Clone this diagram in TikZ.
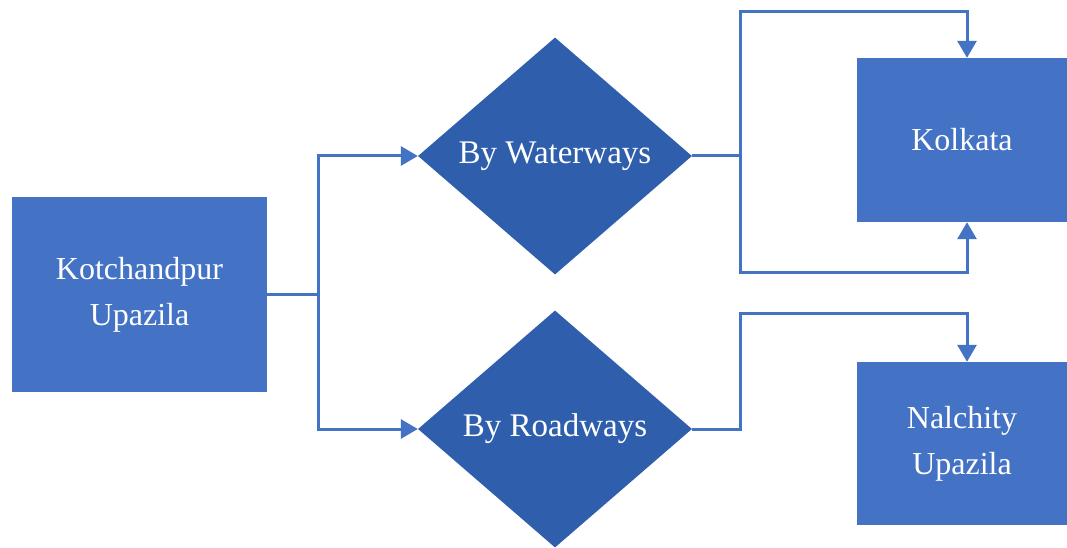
\documentclass[tikz,border=0pt]{standalone}
\usepackage{fontspec}
\setmainfont{Liberation Serif}
\usetikzlibrary{shapes.geometric, positioning, arrows.meta}
\definecolor{boxblue}{RGB}{68,114,196}
\definecolor{diamondblue}{RGB}{47,95,172}
\tikzset{
    x=1pt, y=-1pt, % pixel units, y pointing down
    place/.style={rectangle, fill=boxblue, text=white, inner sep=0pt, align=center,
        font=\fontsize{32}{46}\selectfont}, % the blue boxes
    route/.style={diamond, fill=diamondblue, text=white, inner sep=0pt,
        minimum width=274pt, minimum height=237pt, font=\fontsize{33}{46}\selectfont}, % the ways
    link/.style={draw=boxblue, line width=3pt, line join=miter}, % plain connector
    arrowlink/.style={link, -{Triangle[width=19pt,length=17pt]}}, % connector with head
}
\begin{document}
\begin{tikzpicture}
    \useasboundingbox[fill=white] (0,0) rectangle (1067,548);
    \node[place, minimum width=255pt, minimum height=195pt] (kotchandpur) at (139.5,294.5) {Kotchandpur\\Upazila};
    \node[route] (waterways) at (555,156) {By Waterways};
    \node[route] (roadways) at (555,429) {By Roadways};
    \node[place, minimum width=210pt, minimum height=164pt] (kolkata) at (962,140) {Kolkata};
    \node[place, minimum width=210pt, minimum height=163pt] (nalchity) at (962,443.5) {Nalchity\\Upazila};
    % joints
    \coordinate (split) at (318,294.5);
    \coordinate (wjoin) at (740,156);
    \coordinate (rjoin) at (740,429);
    \coordinate (ktop) at ([xshift=5pt]kolkata.north);
    \coordinate (kbottom) at ([xshift=5pt]kolkata.south);
    \coordinate (ntop) at ([xshift=5pt]nalchity.north);
    % connectors
    \draw[link] (kotchandpur.east) -- (split);
    \draw[arrowlink] (split) |- (waterways.west);
    \draw[arrowlink] (split) |- (roadways.west);
    \draw[link] (waterways.east) -- (wjoin);
    \draw[arrowlink] (wjoin) |- (740,12) -| (ktop);
    \draw[arrowlink] (wjoin) |- (740,272) -| (kbottom);
    \draw[arrowlink] (roadways.east) -| (rjoin) |- (740,313) -| (ntop);
\end{tikzpicture}
\end{document}
